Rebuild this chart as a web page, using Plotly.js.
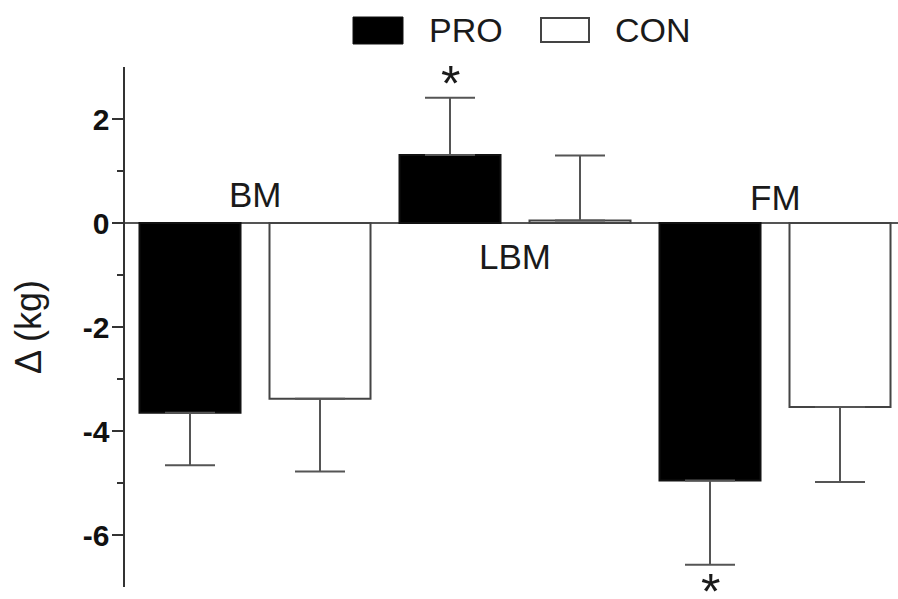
<!DOCTYPE html>
<html>
<head>
<meta charset="utf-8">
<script src="https://cdn.plot.ly/plotly-3.0.1.min.js"></script>
<style>
  html, body { margin: 0; padding: 0; background: #fff; }
  #chart { width: 898px; height: 599px; }
</style>
</head>
<body>
<div id="chart"></div>
<script>
var categories = ['BM', 'LBM', 'FM'];
var groupNames = ['PRO', 'CON'];

var proMean = [-3.65, 1.31, -4.95];
var proErr = [1.01, 1.1, 1.62];
var conMean = [-3.38, 0.05, -3.54];
var conErr = [1.4, 1.25, 1.44];

var yTickVals = [-6, -4, -2, 0, 2];
var yTickText = ['-6', '-4', '-2', '0', '2'];
var yMinorVals = [-5, -3, -1, 1];

// significant PRO changes (category index)
var starCats = [1, 2];

// error bars only point away from zero
function upErr(means, errs) {
    return means.map(function (m, i) { return m >= 0 ? errs[i] : 0; });
}
function downErr(means, errs) {
    return means.map(function (m, i) { return m < 0 ? errs[i] : 0; });
}

var errStyle = { color: '#555', thickness: 2, width: 25 };

var trace1 = {
    x: categories,
    y: proMean,
    name: groupNames[0],
    type: 'bar',
    marker: { color: '#000', line: { color: '#111', width: 2 } },
    error_y: Object.assign({
        type: 'data', symmetric: false,
        array: upErr(proMean, proErr),
        arrayminus: downErr(proMean, proErr)
    }, errStyle),
    showlegend: false,
    hoverinfo: 'skip'
};

var trace2 = {
    x: categories,
    y: conMean,
    name: groupNames[1],
    type: 'bar',
    marker: { color: '#fff', line: { color: '#444', width: 2 } },
    error_y: Object.assign({
        type: 'data', symmetric: false,
        array: upErr(conMean, conErr),
        arrayminus: downErr(conMean, conErr)
    }, errStyle),
    showlegend: false,
    hoverinfo: 'skip'
};

var data = [trace1, trace2];

// plot area in pixels, used for the hand-drawn legend
var L = 125, R = 898, T = 67, B = 587;
function px(x) { return (x - L) / (R - L); }
function py(y) { return (B - y) / (B - T); }

var fam = 'Liberation Sans, Arial, sans-serif';
var txtFont = { family: fam, size: 35, color: '#1a1a1a' };

var annotations = [];
// category labels
var labelY = [0.54, -0.64, 0.5];
categories.forEach(function (c, i) {
    annotations.push({
        x: i, y: labelY[i], xref: 'x', yref: 'y',
        text: c, showarrow: false, font: txtFont,
        xanchor: 'center', yanchor: 'middle'
    });
});
// asterisks just beyond the end of the error bar
starCats.forEach(function (i) {
    var up = proMean[i] >= 0;
    annotations.push({
        x: i - 0.25, y: up ? proMean[i] + proErr[i] : proMean[i] - proErr[i],
        xref: 'x', yref: 'y',
        text: '*', showarrow: false,
        font: { family: fam, size: 50, color: '#1a1a1a' },
        xanchor: 'center', yanchor: 'middle', yshift: up ? 14 : -27
    });
});
// legend text
var legFont = { family: fam, size: 34, color: '#1a1a1a' };
annotations.push({ x: px(427), y: py(30), xref: 'paper', yref: 'paper', text: groupNames[0],
    showarrow: false, font: legFont, xanchor: 'left', yanchor: 'middle' });
annotations.push({ x: px(613), y: py(30), xref: 'paper', yref: 'paper', text: groupNames[1],
    showarrow: false, font: legFont, xanchor: 'left', yanchor: 'middle' });

var shapes = [
    { type: 'rect', xref: 'paper', yref: 'paper', x0: px(353), x1: px(403), y0: py(44), y1: py(17),
      fillcolor: '#000', line: { color: '#111', width: 1 } },
    { type: 'rect', xref: 'paper', yref: 'paper', x0: px(541), x1: px(589), y0: py(42), y1: py(18),
      fillcolor: '#fff', line: { color: '#444', width: 2 } }
];

var layout = {
    width: 898,
    height: 599,
    margin: { l: L, r: 898 - R, t: T, b: 599 - B },
    paper_bgcolor: '#fff',
    plot_bgcolor: 'rgba(0,0,0,0)',
    barmode: 'group',
    bargap: 0,
    bargroupgap: 0.223,
    showlegend: false,
    font: txtFont,
    xaxis: {
        type: 'category',
        range: [-0.5, -0.5 + (R - L) / 260],
        showticklabels: false,
        ticks: '',
        showline: false,
        showgrid: false,
        zeroline: false,
        fixedrange: true
    },
    yaxis: {
        range: [-7, 3],
        tickmode: 'array',
        tickvals: yTickVals,
        ticktext: yTickText,
        tickfont: { family: fam, size: 30, color: '#111', weight: 'bold' },
        ticks: 'outside',
        ticklen: 11,
        tickwidth: 2,
        tickcolor: '#333',
        ticklabelstandoff: -4,
        minor: { tickmode: 'array', tickvals: yMinorVals, ticks: 'outside', ticklen: 6, tickwidth: 2, tickcolor: '#333', showgrid: false },
        showline: true,
        linecolor: '#333',
        linewidth: 2.5,
        showgrid: false,
        zeroline: true,
        zerolinecolor: '#555',
        zerolinewidth: 2,
        title: { text: 'Δ (kg)', font: { family: fam, size: 36, color: '#1a1a1a' }, standoff: 30 },
        fixedrange: true
    },
    annotations: annotations,
    shapes: shapes
};

Plotly.newPlot('chart', data, layout, { displayModeBar: false, staticPlot: true });
</script>
</body>
</html>
